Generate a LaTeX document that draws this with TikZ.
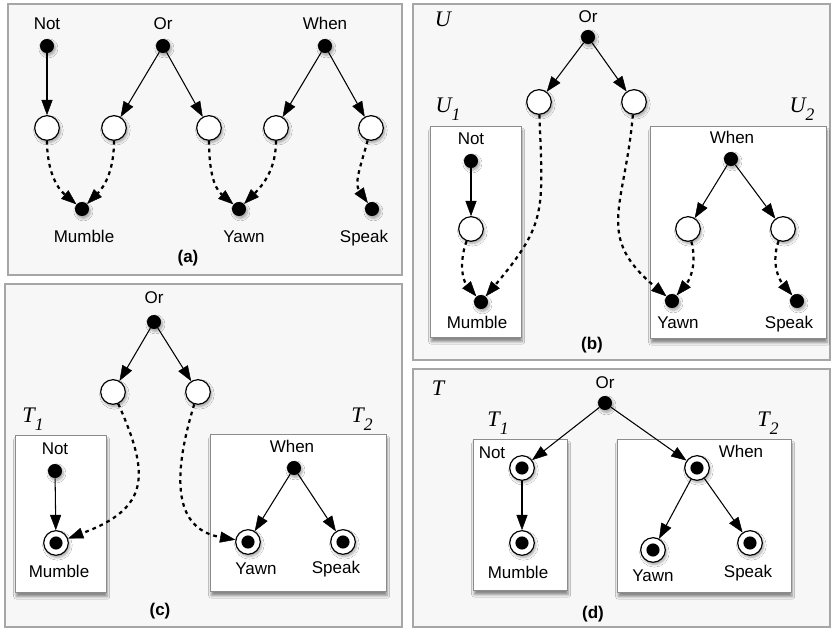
\documentclass[tikz,border=0pt]{standalone}
\usepackage{fontspec}
\setmainfont{Liberation Sans}
\newfontfamily\lblserif{Liberation Serif}
\usetikzlibrary{arrows.meta}
\usetikzlibrary{shadows.blur}
\newcommand\sublbl[2]{{\lblserif\itshape #1\raisebox{-0.35em}{\fontsize{15}{15}\selectfont #2}}}
\tikzset{>={Stealth[length=13pt,width=9.5pt,inset=0pt,fill=black,line width=0.4pt]}}
\tikzset{softshadow/.style = {blur shadow={shadow xshift=1.2pt, shadow yshift=-2pt,
                                           shadow opacity=35, shadow blur steps=6}}}
\tikzset{bdot/.style = {fill, circle, inner sep = 0, minimum size = 12pt, softshadow}}
\tikzset{wdot/.style = {draw, fill=white, circle, line width=1pt, inner sep = 0,
                        minimum size = 21pt, softshadow}}
\tikzset{ddot/.style = {wdot, path picture={\fill [black] (path picture bounding box.center) circle (5.6pt);}}}
\tikzset{txt/.style = {anchor=base, inner sep=0, font=\fontsize{14.5}{16}\selectfont}}
\tikzset{panelcap/.style = {txt, font=\bfseries\fontsize{14.5}{16}\selectfont}}
\tikzset{big/.style = {anchor=base, inner sep=0, font=\fontsize{19}{20}\selectfont}}
\tikzset{panel/.style = {fill=black!3, draw=black!35, line width=0.9pt}}
\tikzset{treebox/.style = {fill=white, draw=black!45, line width=0.8pt,
                           blur shadow={shadow xshift=1pt, shadow yshift=-4pt,
                                        shadow opacity=45, shadow blur steps=6}}}
\tikzset{link/.style = {->, line width=0.9pt}}
\tikzset{dots/.style = {->, line width=1.9pt, dash pattern=on 3.2pt off 3.4pt}}

\begin{document}
\begin{tikzpicture}[x=0.03cm, y=-0.03cm]
  \useasboundingbox (0,0) rectangle (831,629);
  % panels
  \draw [panel] (8,4) rectangle (402,275);
  \draw [panel] (413,4) rectangle (830,360);
  \draw [panel] (5,284) rectangle (402,627);
  \draw [panel] (413,369) rectangle (830,627);

  % (a)
  \node [bdot] (a-not) at (47,46) {};
  \node [bdot] (a-or) at (163,46) {};
  \node [bdot] (a-when) at (325,46) {};
  \node [wdot] (a-o1) at (47,128) {};
  \node [wdot] (a-o2) at (114,128) {};
  \node [wdot] (a-o3) at (209,128) {};
  \node [wdot] (a-o4) at (276,128) {};
  \node [wdot] (a-o5) at (371,128) {};
  \node [bdot] (a-mumble) at (82,209) {};
  \node [bdot] (a-yawn) at (239,209) {};
  \node [bdot] (a-speak) at (372,209) {};
  \node [txt] (a-notl) at (47,30) {Not};
  \node [txt] (a-orl) at (163,30) {Or};
  \node [txt] (a-whenl) at (325,30) {When};
  \node [txt] (a-mumblel) at (84,243) {Mumble};
  \node [txt] (a-yawnl) at (244,243) {Yawn};
  \node [txt] (a-speakl) at (364,243) {Speak};
  \node [panelcap] (a-cap) at (188,263) {(a)};
  \draw [link] (a-not) -- (a-o1);
  \draw [link] (a-or) -- (a-o2);
  \draw [link] (a-or) -- (a-o3);
  \draw [link] (a-when) -- (a-o4);
  \draw [link] (a-when) -- (a-o5);
  \draw [dots] (a-o1) to [out=-90, in=140] (a-mumble);
  \draw [dots] (a-o2) to [out=-90, in=45] (a-mumble);
  \draw [dots] (a-o3) to [out=-90, in=140] (a-yawn);
  \draw [dots] (a-o4) to [out=-90, in=45] (a-yawn);
  \draw [dots] (a-o5) to [out=-105, in=125] (a-speak);

  % (b)
  \draw [treebox] (430,126) rectangle (521,337);
  \draw [treebox] (650,126) rectangle (826,338);
  \node [big] (b-u) at (443,27) {\lblserif\itshape U};
  \node [big] (b-u1) at (448,113) {\sublbl{U}{1}};
  \node [big] (b-u2) at (802,113) {\sublbl{U}{2}};
  \node [bdot] (b-or) at (588,37) {};
  \node [wdot] (b-o1) at (539,102) {};
  \node [wdot] (b-o2) at (634,102) {};
  \node [bdot] (b-not) at (471,161) {};
  \node [wdot] (b-o3) at (471,229) {};
  \node [bdot] (b-mumble) at (481,302) {};
  \node [bdot] (b-when) at (731,159) {};
  \node [wdot] (b-o4) at (688,229) {};
  \node [wdot] (b-o5) at (783,229) {};
  \node [bdot] (b-yawn) at (672,301) {};
  \node [bdot] (b-speak) at (797,301) {};
  \node [txt] (b-orl) at (588,23) {Or};
  \node [txt] (b-notl) at (471,145) {Not};
  \node [txt] (b-whenl) at (732,144) {When};
  \node [txt] (b-mumblel) at (477,329) {Mumble};
  \node [txt] (b-yawnl) at (678,329) {Yawn};
  \node [txt] (b-speakl) at (789,329) {Speak};
  \node [panelcap] (b-cap) at (592,350) {(b)};
  \draw [link] (b-or) -- (b-o1);
  \draw [link] (b-or) -- (b-o2);
  \draw [link] (b-not) -- (b-o3);
  \draw [link] (b-when) -- (b-o4);
  \draw [link] (b-when) -- (b-o5);
  \draw [dots] (b-o1) to [out=-88, in=50, looseness=1.3] (b-mumble);
  \draw [dots] (b-o2) to [out=-95, in=140, looseness=1.3] (b-yawn);
  \draw [dots] (b-o3) to [out=-110, in=130] (b-mumble);
  \draw [dots] (b-o4) to [out=-75, in=50] (b-yawn);
  \draw [dots] (b-o5) to [out=-110, in=130] (b-speak);

  % (c)
  \draw [treebox] (15,435) rectangle (106,592);
  \draw [treebox] (210,434) rectangle (386,591);
  \node [big] (c-t1) at (33,423) {\sublbl{T}{1}};
  \node [big] (c-t2) at (362,423) {\sublbl{T}{2}};
  \node [bdot] (c-or) at (154,322) {};
  \node [wdot] (c-o1) at (113,392) {};
  \node [wdot] (c-o2) at (198,392) {};
  \node [bdot] (c-not) at (55,471) {};
  \node [ddot] (c-mumble) at (56,543) {};
  \node [bdot] (c-when) at (294,468) {};
  \node [ddot] (c-yawn) at (248,542) {};
  \node [ddot] (c-speak) at (343,542) {};
  \node [txt] (c-orl) at (154,304) {Or};
  \node [txt] (c-notl) at (55,455) {Not};
  \node [txt] (c-whenl) at (292,453) {When};
  \node [txt] (c-mumblel) at (59,578) {Mumble};
  \node [txt] (c-yawnl) at (256,575) {Yawn};
  \node [txt] (c-speakl) at (336,574) {Speak};
  \node [panelcap] (c-cap) at (160,616) {(c)};
  \draw [link] (c-or) -- (c-o1);
  \draw [link] (c-or) -- (c-o2);
  \draw [link] (c-not) -- (c-mumble);
  \draw [link] (c-when) -- (c-yawn);
  \draw [link] (c-when) -- (c-speak);
  \draw [dots] (c-o1) .. controls (150,475) and (150,508) .. (c-mumble);
  \draw [dots] (c-o2) .. controls (168,490) and (180,530) .. (c-yawn);

  % (d)
  \draw [treebox] (473,439) rectangle (567,590);
  \draw [treebox] (617,439) rectangle (791,592);
  \node [big] (d-t) at (438,396) {\lblserif\itshape T};
  \node [big] (d-t1) at (498,427) {\sublbl{T}{1}};
  \node [big] (d-t2) at (768,427) {\sublbl{T}{2}};
  \node [bdot] (d-or) at (605,403) {};
  \node [ddot] (d-not) at (522,468) {};
  \node [ddot] (d-mumble) at (522,543) {};
  \node [ddot] (d-when) at (697,468) {};
  \node [ddot] (d-yawn) at (653,550) {};
  \node [ddot] (d-speak) at (750,543) {};
  \node [txt] (d-orl) at (605,389) {Or};
  \node [txt] (d-notl) at (492,459) {Not};
  \node [txt] (d-whenl) at (741,458) {When};
  \node [txt] (d-mumblel) at (518,579) {Mumble};
  \node [txt] (d-yawnl) at (653,582) {Yawn};
  \node [txt] (d-speakl) at (748,578) {Speak};
  \node [panelcap] (d-cap) at (593,619) {(d)};
  \draw [link] (d-or) -- (d-not);
  \draw [link] (d-or) -- (d-when);
  \draw [link] (d-not) -- (d-mumble);
  \draw [link] (d-when) -- (d-yawn);
  \draw [link] (d-when) -- (d-speak);
\end{tikzpicture}
\end{document}
